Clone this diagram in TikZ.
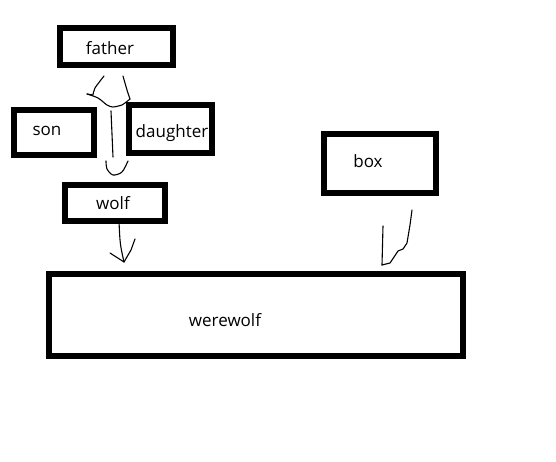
\documentclass[tikz,border=0pt]{standalone}
\usepackage{fontspec}
\setmainfont{Open Sans}
\usetikzlibrary{calc}

\begin{document}
\begin{tikzpicture}[x=1pt, y=-1pt,
    box/.style={draw, line width=6pt, inner sep=0pt},
    txt/.style={font=\fontsize{17}{20}\selectfont, inner sep=0pt},
    sketch/.style={line width=1.1pt, line join=round, line cap=round}]
    \useasboundingbox[fill=white] (0,0) rectangle (556,462);

    % Boxes
    \node[box, minimum width=113pt, minimum height=37pt] (father) at (116.5,46.5) {};
    \node[box, minimum width=80pt, minimum height=45pt] (son) at (54,132.5) {};
    \node[box, minimum width=83pt, minimum height=48pt] (daughter) at (170.5,129) {};
    \node[box, minimum width=100pt, minimum height=36pt] (wolf) at (115,203) {};
    \node[box, minimum width=112pt, minimum height=59pt] (box) at (380,163.5) {};
    \node[box, minimum width=414pt, minimum height=82pt] (werewolf) at (256,315) {};

    % Texts
    \node[txt] (father-txt) at (110,48) {father};
    \node[txt] (son-txt) at (47,131) {son};
    \node[txt] (daughter-txt) at (172,133) {daughter};
    \node[txt] (wolf-txt) at (113,203) {wolf};
    \node[txt] (box-txt) at (368,161) {box};
    \node[txt] (werewolf-txt) at (225,320) {werewolf};

    % father -- wolf
    \draw[sketch] plot[smooth] coordinates {($(father.south)+(-12.5,8)$) ($(father.south)+(-21.5,20)$) ($(father.south)+(-23.5,27)$)} -- ($(father.south)+(-29.5,26)$);
    \draw[sketch] plot[smooth] coordinates {($(father.south)+(-29.5,26)$) ($(father.south)+(-18.5,30)$) ($(father.south)+(-9.5,37)$) ($(father.south)+(-3.5,39)$) ($(father.south)+(5.5,37)$) ($(father.south)+(8.5,35)$) ($(father.south)+(13.5,31)$)};
    \draw[sketch] plot[smooth] coordinates {($(father.south)+(13.5,31)$) ($(father.south)+(10.5,22)$) ($(father.south)+(6.5,8)$)};
    \draw[sketch] ($(father.south)+(-5.5,43)$) -- ($(wolf.north)+(-2,-25)$);
    \draw[sketch] plot[smooth] coordinates {($(wolf.north)+(-9,-21)$) ($(wolf.north)+(-8,-13)$) ($(wolf.north)+(-2,-7)$) ($(wolf.north)+(7,-10)$) ($(wolf.north)+(13,-21)$)};

    % wolf -- werewolf
    \draw[sketch] ($(wolf.south)+(4,-3)$) .. controls ($(wolf.south)+(5,20)$) .. ($(werewolf.north)+(-132,-9)$);
    \draw[sketch] ($(werewolf.north)+(-146,-18)$) -- ($(werewolf.north)+(-132,-9)$);
    \draw[sketch] ($(werewolf.north)+(-121,-32)$) -- ($(werewolf.north)+(-125,-21)$) -- ($(werewolf.north)+(-132,-9)$);

    % box -- werewolf
    \draw[sketch] ($(box.south)+(32,14)$) -- ($(box.south)+(30,29)$) -- ($(box.south)+(27,47)$) -- ($(box.south)+(23,53)$) -- ($(box.south)+(18,55)$) -- ($(box.south)+(10,67)$) -- ($(werewolf.north)+(126,-6)$);
    \draw[sketch] ($(werewolf.north)+(127,-45)$) -- ($(werewolf.north)+(126,-6)$);
\end{tikzpicture}
\end{document}
